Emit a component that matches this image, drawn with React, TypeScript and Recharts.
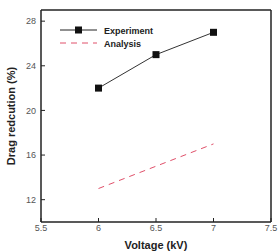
import React from 'react';
import {
  LineChart,
  Line,
  XAxis,
  YAxis,
  Legend,
  Label,
  ReferenceLine,
} from 'recharts';

const voltages = [6, 6.5, 7];
const experiment = [22, 25, 27];
const analysis = [13, 15, 17];
const xTicks = [5.5, 6, 6.5, 7, 7.5];
const yTicks = [12, 16, 20, 24, 28];
const xDomain = [5.5, 7.5];
const yDomain = [10, 29];

const data = voltages.map((v, i) => ({
  v,
  experiment: experiment[i],
  analysis: analysis[i],
}));

const FONT = '"Liberation Sans", Arial, sans-serif';

const SquareDot = (props: any) => {
  const { cx, cy } = props;
  if (cx == null || cy == null) return null;
  return <rect x={cx - 3.5} y={cy - 3.5} width={7} height={7} fill="#111" />;
};

const LegendBox = () => (
  <svg width={110} height={30} style={{ display: 'block' }}>
    <line x1={0} y1={6} x2={37} y2={6} stroke="#222" strokeWidth={1} />
    <rect x={15} y={2.5} width={7} height={7} fill="#111" />
    <text x={44} y={9.5} fontSize={9} fontWeight="bold" fill="#222" fontFamily={FONT}>
      Experiment
    </text>
    <line x1={0} y1={19} x2={37} y2={19} stroke="#e0506a" strokeWidth={1} strokeDasharray="6 5" />
    <text x={44} y={22.5} fontSize={9} fontWeight="bold" fill="#222" fontFamily={FONT}>
      Analysis
    </text>
  </svg>
);

const YTitle = (props: any) => {
  const { viewBox } = props;
  const cy = viewBox.y + viewBox.height / 2;
  return (
    <text
      transform={`translate(15, ${cy}) rotate(-90)`}
      textAnchor="middle"
      fontSize={11}
      fontWeight="bold"
      fill="#222"
      fontFamily={FONT}
    >
      Drag redcution (%)
    </text>
  );
};

const frameLine = { stroke: '#222', strokeWidth: 1.5 };

export default function App() {
  return (
    <div style={{ position: 'absolute', left: 0, top: 0, background: '#fff' }}>
      <LineChart
        width={278}
        height={252}
        data={data}
        margin={{ top: 10, right: 7, left: 0, bottom: 0 }}
      >
        <XAxis
          dataKey="v"
          type="number"
          domain={xDomain}
          ticks={xTicks}
          height={30}
          tickSize={-4}
          tickMargin={7}
          stroke="#222"
          tick={{ fontSize: 9, fill: '#555', fontFamily: FONT }}
          axisLine={frameLine}
        >
          <Label
            value="Voltage (kV)"
            position="insideBottom"
            offset={3}
            style={{ fontSize: 11, fontWeight: 'bold', fill: '#222', fontFamily: FONT }}
          />
        </XAxis>
        <YAxis
          type="number"
          domain={yDomain}
          ticks={yTicks}
          width={41}
          tickSize={-4}
          tickMargin={9}
          stroke="#222"
          tick={{ fontSize: 9, fill: '#555', fontFamily: FONT }}
          axisLine={frameLine}
        >
          <Label content={<YTitle />} />
        </YAxis>
        {/* top and right edges of the frame */}
        <ReferenceLine y={yDomain[1]} stroke="#222" strokeWidth={1.5} ifOverflow="visible" />
        <ReferenceLine x={xDomain[1]} stroke="#222" strokeWidth={1.5} ifOverflow="visible" />
        <Legend
          verticalAlign="middle"
          align="center"
          layout="horizontal"
          content={<LegendBox />}
          wrapperStyle={{ left: 60, top: 24, width: 110 }}
        />
        <Line
          dataKey="experiment"
          stroke="#333"
          strokeWidth={1}
          dot={<SquareDot />}
          activeDot={false}
          isAnimationActive={false}
        />
        <Line
          dataKey="analysis"
          stroke="#e0506a"
          strokeWidth={1}
          strokeDasharray="6 5"
          dot={false}
          activeDot={false}
          isAnimationActive={false}
        />
      </LineChart>
    </div>
  );
}
